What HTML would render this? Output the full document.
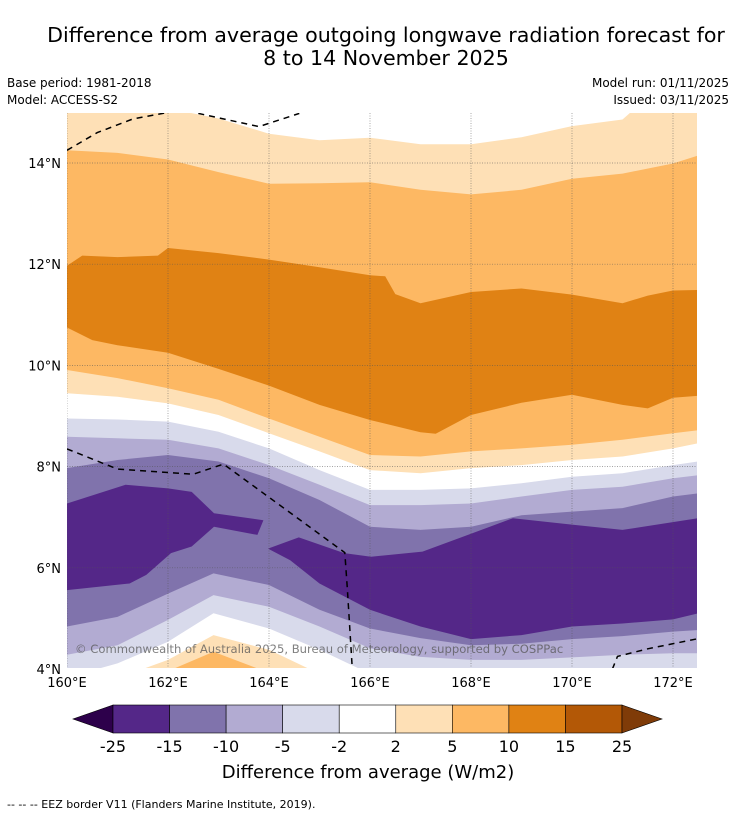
<!DOCTYPE html>
<html><head><meta charset="utf-8">
<style>
body{margin:0;background:#fff;width:736px;height:816px;overflow:hidden;font-family:"Liberation Sans","DejaVu Sans",sans-serif;}
svg text{font-family:"DejaVu Sans","Liberation Sans",sans-serif;}
</style></head>
<body>
<svg id="chart" width="736" height="816" viewBox="0 0 736 816" xmlns="http://www.w3.org/2000/svg">
<rect x="0" y="0" width="736" height="816" fill="#fff"/>
<text x="386" y="42" font-size="20.6" text-anchor="middle">Difference from average outgoing longwave radiation forecast for</text>
<text x="386" y="65" font-size="20.6" text-anchor="middle">8 to 14 November 2025</text>
<text x="7" y="87" font-size="12">Base period: 1981-2018</text>
<text x="7" y="104" font-size="12">Model: ACCESS-S2</text>
<text x="729" y="87" font-size="12" text-anchor="end">Model run: 01/11/2025</text>
<text x="729" y="104" font-size="12" text-anchor="end">Issued: 03/11/2025</text>
<defs><clipPath id="plotclip"><rect x="67" y="113" width="630" height="555"/></clipPath></defs>
<g id="plot" clip-path="url(#plotclip)"></g>
<g id="axes"></g>
<g id="cbar"></g>
<text x="368" y="778" font-size="18" text-anchor="middle">Difference from average (W/m2)</text>
<text x="7" y="808" font-size="11">--  --  -- EEZ border V11 (Flanders Marine Institute, 2019).</text>
</svg>
<script>
// ---- data ----
const lonTicks = [160,162,164,166,168,170,172];
const latTicks = [4,6,8,10,12,14];
const levelLabels = ["-25","-15","-10","-5","-2","2","5","10","15","25"];
const bandColors = ["#542788","#8073ac","#b2abd2","#d8daeb","#ffffff","#fee0b6","#fdb863","#e08214","#b35806"];
// contour boundaries: each is [lon, lat] pairs; area BELOW boundary is filled with the given band
const bA = [[160,15.3],[162,15.3],[162.4,15.0],[163,14.88],[164,14.58],[165,14.45],[166,14.5],[167,14.37],[168,14.37],[169,14.51],[170,14.73],[171,14.86],[171.5,15.3],[172.5,15.3]];
const bB = [[160,14.25],[161,14.2],[162,14.07],[163,13.82],[164,13.59],[165,13.6],[166,13.62],[167,13.47],[168,13.38],[169,13.47],[170,13.69],[171,13.79],[172,13.99],[172.5,14.15]];
const bC = [[160,11.97],[160.3,12.17],[161,12.14],[161.8,12.17],[162,12.32],[163,12.22],[164,12.09],[165,11.94],[166,11.78],[166.3,11.76],[166.5,11.41],[167,11.23],[168,11.45],[169,11.52],[170,11.4],[171,11.23],[171.5,11.38],[172,11.48],[172.5,11.49]];
const bD = [[160,10.75],[160.5,10.5],[161,10.4],[162,10.25],[163,9.93],[164,9.6],[165,9.22],[166,8.92],[167,8.68],[167.3,8.65],[168,9.02],[169,9.26],[170,9.42],[171,9.22],[171.5,9.15],[172,9.36],[172.5,9.4]];
const bE = [[160,9.91],[161,9.75],[162,9.55],[163,9.32],[164,8.95],[165,8.59],[166,8.23],[167,8.2],[168,8.3],[169,8.36],[170,8.43],[171,8.53],[172,8.66],[172.5,8.72]];
const bF = [[160,9.45],[161,9.38],[162,9.25],[163,9.02],[164,8.66],[165,8.3],[166,7.93],[167,7.87],[168,7.97],[169,8.03],[170,8.13],[171,8.2],[172,8.36],[172.5,8.46]];
const bG = [[160,8.95],[161,8.93],[162,8.89],[163,8.69],[164,8.36],[165,7.93],[166,7.54],[167,7.54],[168,7.57],[169,7.67],[170,7.8],[171,7.87],[172,8.03],[172.5,8.1]];
const bH = [[160,8.59],[161,8.56],[162,8.53],[163,8.36],[164,8.03],[165,7.64],[166,7.24],[167,7.24],[168,7.27],[169,7.41],[170,7.54],[171,7.6],[172,7.77],[172.5,7.83]];
const bI = [[160,7.97],[161,8.13],[162,8.23],[163,8.1],[164,7.77],[165,7.34],[166,6.81],[167,6.75],[168,6.81],[169,7.04],[170,7.11],[171,7.18],[172,7.41],[172.5,7.47]];
const blobWest = [[160,7.27],[161.16,7.64],[162,7.57],[162.47,7.5],[162.91,7.08],[163.89,6.94],[163.77,6.65],[162.91,6.81],[162.47,6.42],[162.06,6.29],[161.57,5.86],[161.24,5.69],[160,5.56]];
const blobEast = [[163.98,6.38],[164.59,6.6],[165.49,6.29],[166.02,6.22],[167.04,6.32],[168.02,6.68],[168.83,6.98],[170.02,6.85],[171,6.75],[172.5,6.98],[172.5,5.1],[172,4.98],[171,4.9],[170,4.84],[169,4.67],[168,4.59],[167,4.84],[166,5.17],[165,5.69],[164.42,6.15]];
const bL = [[160,4.84],[161,5.03],[162,5.49],[162.9,5.89],[164,5.66],[165,5.17],[166,4.8],[167,4.61],[168,4.47],[169,4.5],[170,4.59],[171,4.65],[172,4.74],[172.5,4.77]];
const bM = [[160,4.28],[161,4.47],[162,4.97],[162.9,5.46],[164,5.23],[165,4.84],[166,4.41],[167,4.24],[168,4.18],[169,4.18],[170,4.23],[171,4.28],[172,4.31],[172.5,4.31]];
const bN = [[160,3.9],[160.6,4.0],[161,4.11],[162,4.54],[162.9,5.1],[164,4.8],[165,4.38],[165.8,4.0],[166,3.9],[172.5,3.9]];
const bO = [[160,3.9],[161.3,3.9],[161.5,4.0],[162,4.18],[162.9,4.67],[164,4.38],[164.8,4.0],[165,3.9],[172.5,3.9]];
const bP = [[160,3.9],[162,3.9],[162.1,4.0],[162.9,4.34],[163.8,4.0],[164,3.9],[172.5,3.9]];
// EEZ border polylines
const eez1 = [[160,14.25],[160.6,14.6],[161.3,14.87],[162,15.0]];
const eez2 = [[162.6,14.98],[163.8,14.72],[164.6,14.98]];
const eez3 = [[160,8.35],[161,7.95],[162.5,7.85],[163.1,8.05],[165.5,6.3],[165.55,5.6],[165.65,4.0]];
const eez4 = [[170.8,4.0],[170.9,4.25],[171.5,4.4],[172.5,4.6]];

// ---- axes ----
const X0=67, XPD=50.5, Y14=163, YPD=50.6;
function xs(lon){return X0+(lon-160)*XPD;}
function ys(lat){return Y14+(14-lat)*YPD;}
const NS="http://www.w3.org/2000/svg";
const plot=document.getElementById('plot'), axes=document.getElementById('axes'), cbar=document.getElementById('cbar');
function mk(tag,attrs,parent){const e=document.createElementNS(NS,tag);for(const k in attrs)e.setAttribute(k,attrs[k]);parent.appendChild(e);return e;}
function below(b){let d='M'+xs(160)+','+ys(2);b.forEach(p=>{d+=' L'+xs(p[0]).toFixed(1)+','+ys(p[1]).toFixed(1);});d+=' L'+xs(172.5)+','+ys(2)+' Z';return d;}
function poly(b){return 'M'+b.map(p=>xs(p[0]).toFixed(1)+','+ys(p[1]).toFixed(1)).join(' L')+' Z';}
function line(b){return 'M'+b.map(p=>xs(p[0]).toFixed(1)+','+ys(p[1]).toFixed(1)).join(' L');}

let r=mk('rect',{x:67,y:113,width:630,height:555,fill:bandColors[4]},plot);


const layers=[[bA,5,'band-2-5-north'],[bB,6,'band-5-10-north'],[bC,7,'band-10-15'],[bD,6,'band-5-10-south'],[bE,5,'band-2-5-south'],[bF,4,'band-near-zero-mid'],[bG,3,'band-minus2-5'],[bH,2,'band-minus5-10'],[bI,1,'band-minus10-15']];
layers.forEach(L=>{
  const e=mk('path',{d:below(L[0]),fill:bandColors[L[1]]},plot);
  
  
});
[[blobWest,'band-minus15-25-west'],[blobEast,'band-minus15-25-east']].forEach(B=>{
  const e=mk('path',{d:poly(B[0]),fill:bandColors[0]},plot);
  
  
});
const layers2=[[bL,2,'band-minus5-10-lower'],[bM,3,'band-minus2-5-lower'],[bN,4,'band-near-zero-lower'],[bO,5,'band-2-5-lower'],[bP,6,'band-5-10-lower']];
layers2.forEach(L=>{
  const e=mk('path',{d:below(L[0]),fill:bandColors[L[1]]},plot);
  
  
});
// gridlines
lonTicks.forEach(v=>{
  const e=mk('line',{x1:xs(v),x2:xs(v),y1:113,y2:668,stroke:'#555','stroke-width':0.7,'stroke-dasharray':'1,1.5','opacity':0.7},plot);
  
  
});
latTicks.forEach(v=>{
  const e=mk('line',{x1:67,x2:697,y1:ys(v),y2:ys(v),stroke:'#555','stroke-width':0.7,'stroke-dasharray':'1,1.5','opacity':0.7},plot);
  
  
});
[eez1,eez2,eez3,eez4].forEach(b=>{
  const e=mk('path',{d:line(b),fill:'none',stroke:'#000','stroke-width':1.5,'stroke-dasharray':'6,5'},plot);
  
  
});
const cp=mk('text',{x:75,y:653,'font-size':11.6,fill:'#555','fill-opacity':0.75},plot);
cp.textContent='© Commonwealth of Australia 2025, Bureau of Meteorology, supported by COSPPac';


// tick labels
latTicks.forEach(v=>{
  const t=mk('text',{x:61,y:ys(v)+5,'font-size':13,'text-anchor':'end'},axes);
  t.textContent=v+'°N';
  
  
});
lonTicks.forEach(v=>{
  const t=mk('text',{x:xs(v),y:687,'font-size':13,'text-anchor':'middle'},axes);
  t.textContent=v+'°E';
  
  
});
// colorbar
const CB0=113, CBW=(622-113)/bandColors.length, CBY=705, CBH=28;
let tl=mk('path',{d:`M${CB0},${CBY} L73,${CBY+CBH/2} L${CB0},${CBY+CBH} Z`,fill:'#2d004b',stroke:'#000','stroke-width':0.6},cbar);


bandColors.forEach((c,i)=>{
  const e=mk('rect',{x:CB0+i*CBW,y:CBY,width:CBW,height:CBH,fill:c,stroke:'#000','stroke-width':0.6},cbar);
  
  
});
let tr=mk('path',{d:`M622,${CBY} L662,${CBY+CBH/2} L622,${CBY+CBH} Z`,fill:'#7f3b08',stroke:'#000','stroke-width':0.6},cbar);


levelLabels.forEach((s,i)=>{
  const t=mk('text',{x:CB0+i*CBW,y:752,'font-size':16,'text-anchor':'middle'},cbar);
  t.textContent=s;
  
  
});
</script>
</body></html>
